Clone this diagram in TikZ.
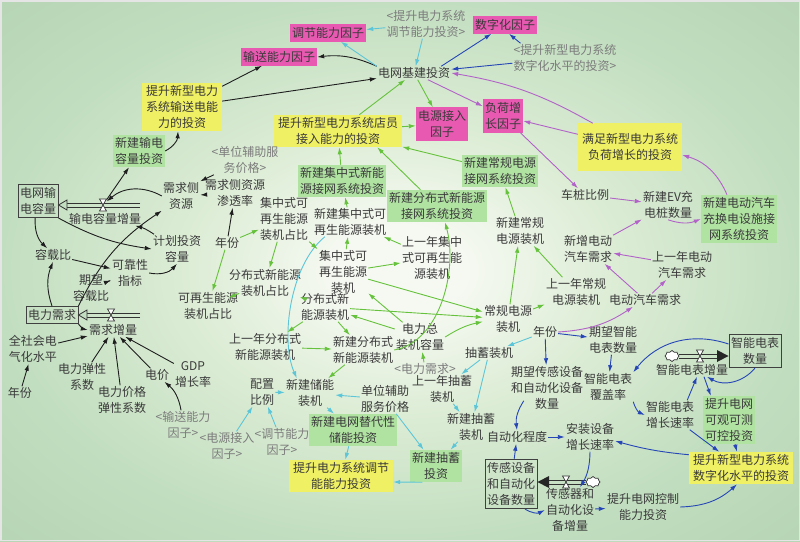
\documentclass[tikz,border=0pt]{standalone}
\usepackage{fontspec}
\setmainfont{Noto Sans CJK SC}
\usetikzlibrary{arrows.meta,shapes.symbols}
\definecolor{txt}{HTML}{3A3A3A}
\definecolor{gtx}{HTML}{7C7C7C}
\definecolor{pinkc}{HTML}{E85AB2}
\definecolor{yelc}{HTML}{F0F064}
\definecolor{grc}{HTML}{B0E2A2}
\definecolor{blk}{HTML}{1E1E1E}
\definecolor{cyc}{HTML}{5CC6D8}
\definecolor{grn}{HTML}{66C23C}
\definecolor{pur}{HTML}{B262C8}
\definecolor{blu}{HTML}{2646B8}
\definecolor{bga}{HTML}{F6F9F2}
\definecolor{bgb}{HTML}{DDEDD6}
\definecolor{bgc}{HTML}{C2DEC0}
\definecolor{bgd}{HTML}{B6D5B4}
\pgfdeclareradialshading{bgshade}{\pgfpoint{0bp}{0bp}}{color(0bp)=(bga); color(4bp)=(bga); color(13bp)=(bgb); color(25bp)=(bgc); color(36bp)=(bgd); color(50bp)=(bgd)}
\newcommand\myfs{\fontsize{12}{16}\selectfont}
\newcommand\myvalve[2]{\draw[line width=0.7pt, draw=black!80, fill=white] (#1-3.5,#2+6) -- (#1+3.5,#2+6) -- (#1-3.5,#2-6) -- (#1+3.5,#2-6) -- cycle;}
\begin{document}
\begin{tikzpicture}[x=1pt,y=1pt,
 nbase/.style={font=\myfs, text=txt, align=center, inner sep=1pt},
 tx/.style={nbase},
 gtxt/.style={nbase, text=gtx},
 pk/.style={nbase, fill=pinkc, inner xsep=2pt, inner ysep=3pt},
 yb/.style={nbase, fill=yelc, inner xsep=4pt, inner ysep=2.5pt},
 gb/.style={nbase, fill=grc, inner xsep=2pt, inner ysep=2.5pt},
 stockbox/.style={nbase, draw=black!75, line width=1pt, inner xsep=2pt, inner ysep=3pt},
 cn/.style={-{Latex[length=7pt,width=4.5pt]}, line width=0.9pt},
 bk/.style={cn, draw=blk}, cy/.style={cn, draw=cyc}, gr/.style={cn, draw=grn},
 pu/.style={cn, draw=pur}, bl/.style={cn, draw=blu},
 pipe/.style={draw=black!80, line width=0.8pt},
 valvept/.style={inner sep=0pt, minimum width=7pt, minimum height=12pt},
 cloudy/.style={cloud, cloud puffs=8, draw=black!80, line width=0.7pt, fill=white, minimum width=14pt, minimum height=11pt, inner sep=0pt}
]
\useasboundingbox (0,0) rectangle (800,-541);
\shade[shading=bgshade] (0,0) rectangle (800,-541);
\draw[white!80!gray, line width=1.5pt] (0.75,-0.75) rectangle (799.25,-540.25);

% ---------- nodes ----------
\node[pk] (tiaojie) at (328,-33) {调节能力因子};
\node[gtxt] (gTJ) at (426,-24) {<提升电力系统\\调节能力投资>};
\node[pk] (szh) at (505,-25) {数字化因子};
\node[gtxt] (gSZ) at (565,-58) {<提升新型电力系统\\数字化水平的投资>};
\node[pk] (shusong) at (279,-57) {输送能力因子};
\node[tx] (jijian) at (414,-73) {电网基建投资};
\node[yb] (ySS) at (182,-107) {提升新型电力\\系统输送电能\\力的投资};
\node[pk] (dyjr) at (442,-124) {电源接入\\因子};
\node[pk] (fhzz) at (503,-116) {负荷增\\长因子};
\node[yb] (yJR) at (338,-131) {提升新型电力系统店员\\接入能力的投资};
\node[yb, inner ysep=10pt] (yFH) at (630,-147) {满足新型电力系统\\负荷增长的投资};
\node[gb] (gbSD) at (139,-151) {新建输电\\容量投资};
\node[gtxt] (gDW) at (245,-160) {<单位辅助服\\务价格>};
\node[gb] (gbJZ) at (342,-181) {新建集中式新能\\源接网系统投资};
\node[gb] (gbCG) at (500,-171) {新建常规电源\\接网系统投资};
\node[gb] (gbFB) at (437,-206) {新建分布式新能源\\接网系统投资};
\node[tx] (czbl) at (585,-195) {车桩比例};
\node[tx] (evcz) at (668,-205) {新建EV充\\电桩数量};
\node[gb] (gbEV) at (739,-219) {新建电动汽车\\充换电设施接\\网系统投资};
\node[stockbox] (sDW) at (38,-201) {电网输\\电容量};
\node[tx] (fSD) at (105,-219) {输电容量增量};
\node[tx] (xqc) at (181,-196) {需求侧\\资源};
\node[tx] (xqcs) at (235,-193) {需求侧资源\\渗透率};
\node[tx] (jzzb) at (284,-219) {集中式可\\再生能源\\装机占比};
\node[tx] (xjjz) at (350,-222) {新建集中式可\\再生能源装机};
\node[tx] (nf1) at (227,-243) {年份};
\node[tx] (jhtz) at (177,-249) {计划投资\\容量};
\node[tx] (rzb) at (53,-255) {容载比};
\node[tx] (kkx) at (130,-273) {可靠性\\指标};
\node[tx] (qwrz) at (91,-288) {期望\\容载比};
\node[tx] (fbzb) at (265,-283) {分布式新能源\\装机占比};
\node[tx] (zszb) at (208,-306) {可再生能源\\装机占比};
\node[tx] (snjz) at (432,-258) {上一年集中\\式可再生能\\源装机};
\node[tx] (xjcg) at (520,-231) {新建常规\\电源装机};
\node[tx] (jzzj) at (343,-272) {集中式可\\再生能源\\装机};
\node[tx] (fbzj) at (325,-307) {分布式新\\能源装机};
\node[tx] (xzev) at (588,-249) {新增电动\\汽车需求};
\node[tx] (snev) at (682,-265) {上一年电动\\汽车需求};
\node[tx] (sncg) at (576,-292) {上一年常规\\电源装机};
\node[tx] (evxq) at (645,-300) {电动汽车需求};
\node[tx] (cgzj) at (508,-319) {常规电源\\装机};
\node[stockbox] (sXQ) at (52,-315) {电力需求};
\node[tx] (fXQ) at (113,-330) {需求增量};
\node[tx] (qshd) at (33,-349) {全社会电\\气化水平};
\node[tx] (snfb) at (265,-347) {上一年分布式\\新能源装机};
\node[tx] (xjfb) at (363,-350) {新建分布式\\新能源装机};
\node[tx] (dlzz) at (420,-337) {电力总\\装机容量};
\node[tx] (nf2) at (545,-332) {年份};
\node[tx] (qwdb) at (613,-340) {期望智能\\电表数量};
\node[stockbox] (sDB) at (755,-351) {智能电表\\数量};
\node[tx] (cxzj) at (489,-353) {抽蓄装机};
\node[gtxt] (gDL) at (425,-369) {<电力需求>};
\node[tx] (sncx) at (442,-389) {上一年抽蓄\\装机};
\node[tx] (pzbl) at (262,-392) {配置\\比例};
\node[tx] (xjcn) at (310,-393) {新建储能\\装机};
\node[tx] (dwfz) at (385,-399) {单位辅助\\服务价格};
\node[tx] (qwcg) at (547,-388) {期望传感设备\\和自动化设备\\数量};
\node[tx] (dbfg) at (608,-387) {智能电表\\覆盖率};
\node[tx] (fDB) at (692,-370) {智能电表增量};
\node[tx] (dltx) at (82,-377) {电力弹性\\系数};
\node[tx] (dj) at (157,-375) {电价};
\node[tx] (gdp) at (193,-374) {GDP\\增长率};
\node[tx] (nf3) at (20,-393) {年份};
\node[tx] (dljg) at (122,-400) {电力价格\\弹性系数};
\node[gtxt] (gSS) at (183,-425) {<输送能力\\因子>};
\node[gtxt] (gJR) at (227,-446) {<电源接入\\因子>};
\node[gtxt] (gTJ2) at (282,-442) {<调节能力\\因子>};
\node[gb] (gbCN) at (353,-430) {新建电网替代性\\储能投资};
\node[yb] (yTJ) at (341,-476) {提升电力系统调节\\能能力投资};
\node[tx] (xjcx) at (471,-427) {新建抽蓄\\装机};
\node[gb] (gbCX) at (436,-466) {新建抽蓄\\投资};
\node[tx] (zdh) at (517,-437) {自动化程度};
\node[tx] (azsb) at (590,-437) {安装设备\\增长速率};
\node[tx] (dbzs) at (670,-415) {智能电表\\增长速率};
\node[gb] (gbKC) at (729,-420) {提升电网\\可观可测\\可控投资};
\node[yb] (ySZ) at (741,-468) {提升新型电力系统\\数字化水平的投资};
\node[stockbox] (sCG) at (511,-484) {传感设备\\和自动化\\设备数量};
\node[tx] (fCG) at (570,-510) {传感器和\\自动化设\\备增量};
\node[tx] (kzzt) at (643,-507) {提升电网控制\\能力投资};

% ---------- stocks and flows ----------
\draw[pipe] (140,-203) -- (66,-203);
\draw[pipe] (140,-207) -- (66,-207);
\draw[pipe, fill=bgc] (58.5,-205) -- (67,-200) -- (67,-210) -- cycle;
\myvalve{103}{-205}
\node[valvept] (v1) at (103,-205) {};

\draw[pipe] (140,-313) -- (86,-313);
\draw[pipe] (140,-317) -- (86,-317);
\draw[pipe, fill=bgc] (78.5,-315) -- (87,-310) -- (87,-320) -- cycle;
\myvalve{111}{-315}
\node[valvept] (v2) at (111,-315) {};

\node[cloudy] (c3) at (672,-356) {};
\draw[pipe] (679,-354) -- (718,-354);
\draw[pipe] (679,-358) -- (718,-358);
\fill[black!85] (728.5,-356) -- (717,-350) -- (717,-362) -- cycle;
\myvalve{700}{-356}
\node[valvept] (v3) at (700,-356) {};

\node[cloudy] (c4) at (593,-482) {};
\draw[pipe] (586,-480) -- (548,-480);
\draw[pipe] (586,-484) -- (548,-484);
\fill[black!85] (537.5,-482) -- (549,-476) -- (549,-488) -- cycle;
\myvalve{566}{-482}
\node[valvept] (v4) at (566,-482) {};

% ---------- black ----------
\draw[bk] (ySS) -- (shusong);
\draw[bk] (ySS) -- (jijian);
\draw[bk] (jijian.north west) to[bend right=15] (shusong.east);
\draw[bk] (gbSD.east) to[bend right=30] ([xshift=-4pt]ySS.south);
\draw[bk] (v1) -- ([xshift=-10pt]gbSD.south);
\draw[bk] (xqc.west) to[bend right=35] (v1);
\draw[bk] (xqcs) -- (xqc);
\draw[bk] (gDW) -- (xqc.north east);
\draw[bk] (nf1) -- (xqcs);
\draw[bk] (sDW) to[bend right=25] (rzb);
\draw[bk] (sDW.south east) to[bend right=10] (jhtz.west);
\draw[bk] (jhtz) to[bend right=10] (fSD);
\draw[bk] (rzb) -- (kkx);
\draw[bk] (qwrz) -- (kkx);
\draw[bk] (kkx.east) to[bend right=30] (jhtz.south);
\draw[bk] (sXQ.north) to[bend left=20] (rzb.south);
\draw[bk] (sXQ.north east) to[bend left=15] (xqc.south west);
\draw[bk] (sXQ.south east) to[bend right=20] (fXQ.west);
\draw[bk] (qshd) -- (fXQ);
\draw[bk] (dltx) -- (fXQ);
\draw[bk] (dljg) -- (fXQ);
\draw[bk] (dj) -- (fXQ);
\draw[bk] (gdp) -- (fXQ);
\draw[bk] (nf3) -- (qshd);
\draw[bk] (gSS) to[bend right=20] (dj);

% ---------- cyan ----------
\draw[cy] (gTJ) -- (tiaojie);
\draw[cy] (gTJ) -- (jijian);
\draw[cy] (jijian.north west) -- (tiaojie);
\draw[cy] ([xshift=12pt]xjjz.south west) .. controls (290,-265) and (280,-340) .. ([xshift=12pt]xjcn.north west);
\draw[cy] (pzbl) -- (xjcn);
\draw[cy] (gJR) -- (pzbl);
\draw[cy] (gTJ2) -- (pzbl);
\draw[cy] (dwfz) -- (xjcn);
\draw[cy] (xjcn) -- (gbCN);
\draw[cy] (gbCN) -- (yTJ);
\draw[cy] (dwfz) -- (gbCX);
\draw[cy] (gbCX.230) -- ([yshift=-6pt]yTJ.east);
\draw[cy] (xjcx) -- (gbCX);
\draw[cy] (sncx) -- (xjcx);
\draw[cy] (cxzj) -- (sncx);
\draw[cy] (cxzj) -- (xjcx);
\draw[cy] (nf2) -- (cxzj);

% ---------- green ----------
\draw[gr] (yJR) -- (jijian);
\draw[gr] (jijian) -- (dyjr);
\draw[gr] (yJR) -- (dyjr);
\draw[gr] (gbJZ) -- (yJR);
\draw[gr] (gbFB) -- ([xshift=-25pt]yJR.south east);
\draw[gr] (gbCG) -- (yJR);
\draw[gr] (xjjz) -- (gbJZ);
\draw[gr] (snjz) -- (xjjz);
\draw[gr] (jzzj) -- (xjjz);
\draw[gr] (jzzj) -- (snjz);
\draw[gr] (jzzb) -- (jzzj);
\draw[gr] (nf1) -- (jzzb);
\draw[gr] (nf1) -- (zszb);
\draw[gr] (jzzb) -- (fbzb);
\draw[gr] (zszb) -- (fbzb);
\draw[gr] (fbzb) -- (fbzj);
\draw[gr] (fbzj) -- (snfb);
\draw[gr] (snfb) -- (xjfb);
\draw[gr] (fbzj) -- (xjfb);
\draw[gr] (xjfb) -- (xjcn);
\draw[gr] (xjfb.east) .. controls (440,-342) and (458,-270) .. ([xshift=8pt]gbFB.south);
\draw[gr] (dlzz) -- (jzzj);
\draw[gr] (dlzz) -- (fbzj);
\draw[gr] (jzzj) -- (cgzj);
\draw[gr] (fbzj) -- (cgzj);
\draw[gr] (dlzz.east) to[bend left=10] (cgzj);
\draw[gr] (gDL) -- (dlzz);
\draw[gr] (cgzj) -- (xjcg);
\draw[gr] (sncg) -- (xjcg);
\draw[gr] (cgzj) -- (sncg);
\draw[gr] (xjcg) -- (gbCG);

% ---------- purple ----------
\draw[pu] ([xshift=15pt]yFH.north west) to[bend right=10] (jijian.east);
\draw[pu] (yFH) -- (fhzz);
\draw[pu] (jijian) -- (fhzz);
\draw[pu] (fhzz) -- (czbl);
\draw[pu] (czbl) -- (evcz);
\draw[pu] (evcz.south) to[bend right=20] (gbEV.west);
\draw[pu] ([xshift=-12pt]gbEV.north) to[bend right=25] ([yshift=-8pt]yFH.east);
\draw[pu] (xzev) -- (evcz);
\draw[pu] (snev) -- (xzev);
\draw[pu] (evxq) -- (xzev);
\draw[pu] (evxq) -- (snev);
\draw[pu] (nf2.east) to[bend right=15] ([xshift=-12pt]evxq.south);

% ---------- blue ----------
\draw[bl] ([xshift=8pt]gSZ.north west) -- ([xshift=4pt]szh.south);
\draw[bl] (gSZ) -- (jijian);
\draw[bl] ([xshift=-10pt]jijian.north east) -- (szh);
\draw[bl] (nf2) -- (qwdb);
\draw[bl] (nf2) -- (qwcg);
\draw[bl] (qwdb) -- (dbfg);
\draw[bl] ([xshift=14pt,yshift=10pt]qwcg.south west) to[bend right=20] (zdh.north);
\draw[bl] (sCG) -- (zdh);
\draw[bl] ([yshift=7pt]sDB.west) to[bend right=35] (dbfg.north east);
\draw[bl] (sDB.south) to[bend left=40] ([xshift=15pt]fDB.south);
\draw[bl] (dbfg.south east) to[bend right=25] (dbzs.west);
\draw[bl] ([xshift=-8pt]dbzs.north east) -- ([xshift=5pt]fDB.south);
\draw[bl] ([xshift=12pt]fDB.south) -- ([xshift=8pt]gbKC.north west);
\draw[bl] (gbKC) -- (ySZ);
\draw[bl] (dbzs) -- (ySZ);
\draw[bl] (zdh) -- (azsb);
\draw[bl] ([yshift=-3pt]ySZ.north west) to[bend left=5] ([yshift=-4pt]azsb.east);
\draw[bl] (azsb.south) to[bend left=15] ([xshift=10pt]fCG.north);
\draw[bl] ([xshift=14pt]sCG.south) to[bend right=30] (fCG.west);
\draw[bl] (fCG) -- (kzzt);
\draw[bl] (kzzt.east) to[bend right=20] ([xshift=-4pt]ySZ.south);
\end{tikzpicture}
\end{document}
